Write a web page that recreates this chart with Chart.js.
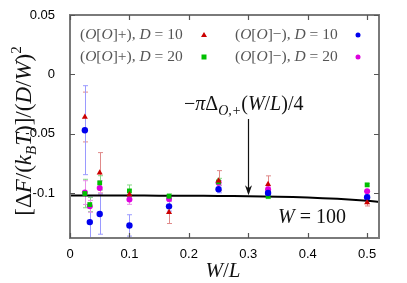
<!DOCTYPE html>
<html>
<head>
<meta charset="utf-8">
<script src="https://cdn.jsdelivr.net/npm/chart.js@4/dist/chart.umd.min.js"></script>
<style>
  html, body { margin: 0; padding: 0; background: #fff; }
  #wrap { width: 407px; height: 283px; position: relative; }
</style>
</head>
<body>
<div id="wrap"><canvas id="chart"></canvas></div>
<script>
// W/L positions and values
const plusD10X = [0.025, 0.05, 0.1, 1 / 6, 0.25, 1 / 3, 0.5];
const plusD10Y = [-0.036, -0.083, -0.1014, -0.1163, -0.0897, -0.0926, -0.108];
const plusD10Err = [0.021, 0.017, 0.004, 0.0095, 0.0085, 0.007, 0.003];

const minusD10X = [0.025, 1 / 30, 0.05, 0.1, 1 / 6, 0.25, 1 / 3, 0.5];
const minusD10Y = [-0.0471, -0.1246, -0.1178, -0.1274, -0.1113, -0.0969, -0.1, -0.1036];
const minusD10Err = [0.0375, 0.021, 0.017, 0.009, 0.004, 0.003, 0.002, 0.002];

const plusD20X = [0.025, 1 / 30, 0.05, 0.1, 1 / 6, 0.25, 1 / 3, 0.5];
const plusD20Y = [-0.1005, -0.1098, -0.0915, -0.0983, -0.1028, -0.0907, -0.1028, -0.0932];
const plusD20Err = [0.012, 0.006, 0.006, 0.005, 0.002, 0.003, 0.002, 0.001];

const minusD20X = [0.025, 1 / 30, 0.05, 0.1, 1 / 6, 0.25, 1 / 3, 0.5];
const minusD20Y = [-0.0997, -0.1113, -0.0958, -0.1056, -0.1051, -0.0915, -0.0969, -0.0986];
const minusD20Err = [0.01, 0.005, 0.006, 0.004, 0.002, 0.002, 0.002, 0.001];

// theory curve -pi*Delta(W/L)/4
const theoryX = [0, 0.05, 0.1, 0.15, 0.2, 0.25, 0.3, 0.35, 0.4, 0.45, 0.5, 0.52];
const theoryY = [-0.1022, -0.1022, -0.1022, -0.1023, -0.1024, -0.1025, -0.1028, -0.1032, -0.1039, -0.105, -0.1066, -0.1076];

const xTicks = [0, 0.1, 0.2, 0.3, 0.4, 0.5];
const yTicks = [0.05, 0, -0.05, -0.1];

const SERIF = '"Liberation Serif", "DejaVu Serif", serif';
const SANS = '"Liberation Sans", Arial, sans-serif';

function pts(xs, ys) { return xs.map((x, i) => ({ x: x, y: ys[i] })); }

const series = [
  { label: '(O[O]+), D = 10', xs: plusD10X, ys: plusD10Y, err: plusD10Err, color: '#cc0000', bar: '#e08a8a', style: 'triangle', r: 3.5 },
  { label: '(O[O]−), D = 10', xs: minusD10X, ys: minusD10Y, err: minusD10Err, color: '#0000ee', bar: '#9a9aff', style: 'circle', r: 3.2 },
  { label: '(O[O]+), D = 20', xs: plusD20X, ys: plusD20Y, err: plusD20Err, color: '#00c000', bar: '#86d886', style: 'rect', r: 3.4 },
  { label: '(O[O]−), D = 20', xs: minusD20X, ys: minusD20Y, err: minusD20Err, color: '#dd00dd', bar: '#e890e8', style: 'circle', r: 3.0 }
];

// draw a string made of [text, italic, size, dy] pieces
function rich(ctx, parts, x, y) {
  let cx = x;
  parts.forEach(p => {
    ctx.font = (p[1] ? 'italic ' : '') + p[2] + 'px ' + SERIF;
    ctx.fillText(p[0], cx, y + (p[3] || 0));
    cx += ctx.measureText(p[0]).width;
  });
  return cx - x;
}
function richWidth(ctx, parts) {
  let w = 0;
  parts.forEach(p => {
    ctx.font = (p[1] ? 'italic ' : '') + p[2] + 'px ' + SERIF;
    w += ctx.measureText(p[0]).width;
  });
  return w;
}
function legendParts(sign, d) {
  const s = 15.5;
  return [['(', 0, s], ['O', 1, s], ['[', 0, s], ['O', 1, s], [']' + sign + '), ', 0, s], ['D', 1, s], [' = ' + d, 0, s]];
}

const errorBars = {
  id: 'errorBars',
  beforeDatasetsDraw(chart) {
    const ctx = chart.ctx, xs = chart.scales.x, ys = chart.scales.y, a = chart.chartArea;
    ctx.save();
    ctx.beginPath();
    ctx.rect(a.left, a.top, a.right - a.left, a.bottom - a.top);
    ctx.clip();
    ctx.lineWidth = 1;
    series.forEach(s => {
      ctx.strokeStyle = s.bar;
      s.xs.forEach((x, i) => {
        const px = Math.round(xs.getPixelForValue(x)) + 0.5;
        const top = ys.getPixelForValue(s.ys[i] + s.err[i]);
        const bot = ys.getPixelForValue(s.ys[i] - s.err[i]);
        ctx.beginPath();
        ctx.moveTo(px, top); ctx.lineTo(px, bot);
        ctx.moveTo(px - 2.5, top); ctx.lineTo(px + 2.5, top);
        ctx.moveTo(px - 2.5, bot); ctx.lineTo(px + 2.5, bot);
        ctx.stroke();
      });
    });
    ctx.restore();
  }
};

const frame = {
  id: 'frame',
  afterDraw(chart) {
    const ctx = chart.ctx, xs = chart.scales.x, ys = chart.scales.y, a = chart.chartArea;
    ctx.save();
    ctx.strokeStyle = '#7a7a7a';
    ctx.lineWidth = 2;
    ctx.strokeRect(a.left, a.top, a.right - a.left, a.bottom - a.top);
    ctx.lineWidth = 1.2;
    ctx.strokeStyle = '#555';
    ctx.beginPath();
    xTicks.forEach(v => {
      const p = Math.round(xs.getPixelForValue(v)) + 0.5;
      ctx.moveTo(p, a.bottom); ctx.lineTo(p, a.bottom - 5);
      ctx.moveTo(p, a.top); ctx.lineTo(p, a.top + 5);
    });
    yTicks.forEach(v => {
      const p = Math.round(ys.getPixelForValue(v)) + 0.5;
      ctx.moveTo(a.left, p); ctx.lineTo(a.left + 5, p);
      ctx.moveTo(a.right, p); ctx.lineTo(a.right - 5, p);
    });
    ctx.stroke();

    // legend
    ctx.textBaseline = 'middle';
    const rows = [[0, 1], [2, 3]];
    const colText = [80, 235], colMark = [204, 358], rowY = [35, 57];
    rows.forEach((row, ri) => {
      row.forEach((si, ci) => {
        const s = series[si];
        ctx.fillStyle = '#555';
        const sign = s.label.indexOf('+') >= 0 ? '+' : '−';
        const d = s.label.slice(-2);
        rich(ctx, legendParts(sign, d), colText[ci], rowY[ri]);
        ctx.fillStyle = s.color;
        const mx = colMark[ci], my = rowY[ri];
        ctx.beginPath();
        if (s.style === 'triangle') {
          ctx.moveTo(mx, my - 3); ctx.lineTo(mx + 3, my + 2); ctx.lineTo(mx - 3, my + 2); ctx.closePath();
        } else if (s.style === 'rect') {
          ctx.rect(mx - 2.5, my - 2.5, 5, 5);
        } else {
          ctx.arc(mx, my, 2.5, 0, Math.PI * 2);
        }
        ctx.fill();
      });
    });

    // annotation and arrow
    ctx.fillStyle = '#111';
    ctx.textBaseline = 'alphabetic';
    rich(ctx, [['−', 0, 20], ['π', 1, 20], ['Δ', 0, 20], ['O,+', 1, 14, 5], ['(', 0, 20], ['W', 1, 20], ['/', 0, 20], ['L', 1, 20], [')/4', 0, 20]], 184, 110);
    const ax = Math.round(xs.getPixelForValue(0.3)) + 0.5;
    const ay = ys.getPixelForValue(theoryY[6]) - 1;
    ctx.strokeStyle = '#111';
    ctx.lineWidth = 1.2;
    ctx.beginPath();
    ctx.moveTo(ax, 119); ctx.lineTo(ax, ay - 2);
    ctx.stroke();
    ctx.beginPath();
    ctx.moveTo(ax, ay); ctx.lineTo(ax - 3.5, ay - 10); ctx.lineTo(ax, ay - 7); ctx.lineTo(ax + 3.5, ay - 10); ctx.closePath();
    ctx.fill();

    rich(ctx, [['W', 1, 20], [' = 100', 0, 20]], 278, 223);

    // axis titles
    const xt = [['W', 1, 21], ['/', 0, 21], ['L', 1, 21]];
    rich(ctx, xt, 223 - richWidth(ctx, xt) / 2, 277);

    const yt = [['[', 0, 23], ['Δ', 0, 23], ['F', 1, 23], ['/(', 0, 23], ['k', 1, 23], ['B', 1, 15, 5], ['T', 1, 23], [')]/(', 0, 23], ['D', 1, 23], ['/', 0, 23], ['W', 1, 23], [')', 0, 23], ['2', 0, 15, -10]];
    ctx.translate(31, 131);
    ctx.rotate(-Math.PI / 2);
    rich(ctx, yt, -richWidth(ctx, yt) / 2, 0);
    ctx.restore();
  }
};

const datasets = series.map(s => ({
  label: s.label,
  data: pts(s.xs, s.ys),
  pointStyle: s.style,
  pointRadius: s.r,
  pointBackgroundColor: s.color,
  pointBorderColor: s.color,
  pointBorderWidth: 0,
  showLine: false
}));
datasets.unshift({
  label: 'theory',
  data: pts(theoryX, theoryY),
  showLine: true,
  borderColor: '#000',
  borderWidth: 2,
  pointRadius: 0,
  tension: 0.3,
  order: 5
});

new Chart(document.getElementById('chart'), {
  type: 'scatter',
  data: { datasets: datasets },
  options: {
    responsive: true,
    maintainAspectRatio: false,
    animation: false,
    layout: { padding: { top: 15, right: 28, left: 0, bottom: 0 } },
    plugins: { legend: { display: false }, tooltip: { enabled: false } },
    scales: {
      x: {
        type: 'linear', min: 0, max: 0.52,
        grid: { display: false }, border: { display: false },
        afterFit: s => { s.height = 45; },
        ticks: {
          stepSize: 0.1, includeBounds: false, padding: 1, color: '#000',
          font: { family: SANS, size: 13 },
          callback: v => String(Math.round(v * 10) / 10)
        }
      },
      y: {
        type: 'linear', min: -0.138, max: 0.05,
        grid: { display: false }, border: { display: false },
        afterFit: s => { s.width = 70; },
        ticks: {
          stepSize: 0.05, includeBounds: false, padding: 7, color: '#000',
          font: { family: SANS, size: 13 },
          callback: v => String(Math.round(v * 100) / 100)
        }
      }
    }
  },
  plugins: [errorBars, frame]
});
</script>
</body>
</html>
